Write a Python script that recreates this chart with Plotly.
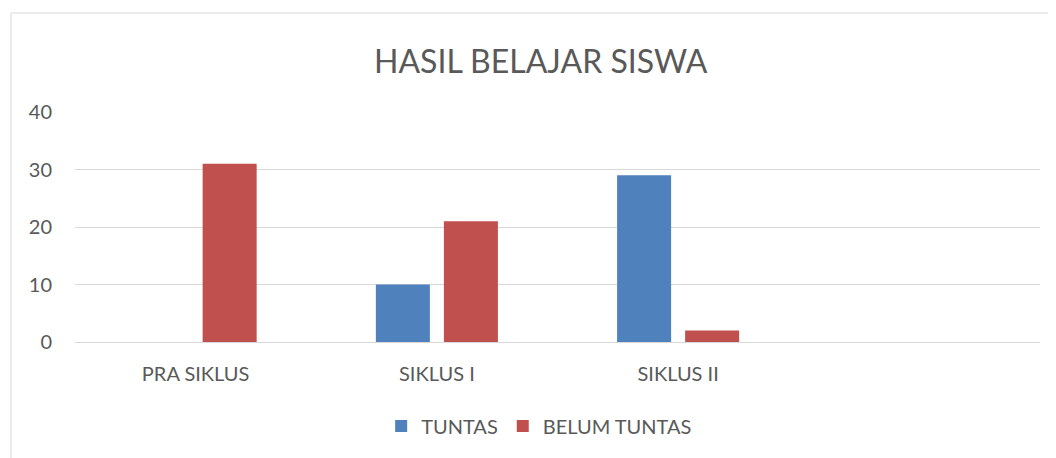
import plotly.graph_objects as go

categories = ["PRA SIKLUS", "SIKLUS I", "SIKLUS II"]
tuntas = [0, 10, 29]
belum_tuntas = [31, 21, 2]
y_ticks = [0, 10, 20, 30, 40]

FONT = "Lato"
TXT = "#595959"

fig = go.Figure()
fig.add_trace(go.Bar(name="TUNTAS", x=categories, y=tuntas, marker_color="#4F81BD",
                     marker_line_width=0))
fig.add_trace(go.Bar(name="BELUM TUNTAS", x=categories, y=belum_tuntas, marker_color="#C0504D",
                     marker_line_width=0))

# page body has an 8px margin; figure is sized/offset to compensate
fig.update_layout(
    width=1040, height=450,
    margin=dict(l=67, r=8, t=104, b=116),
    paper_bgcolor="white", plot_bgcolor="white",
    barmode="group", bargap=0.436, bargroupgap=0.206,
    font=dict(family=FONT, color=TXT, size=20),
    showlegend=True,
    legend=dict(orientation="h", x=0.481, xanchor="center", y=-0.365, yanchor="middle",
                font=dict(size=20, color=TXT, family=FONT), itemwidth=30, traceorder="normal"),
    xaxis=dict(type="category", range=[-0.5, 3.5], showgrid=False, showline=False,
               ticks="", ticklabelstandoff=18, tickfont=dict(size=20, color=TXT, family=FONT),
               zeroline=False),
    yaxis=dict(range=[0, 40], tickvals=y_ticks, showgrid=True, gridcolor="#d9d9d9", gridwidth=1,
               zeroline=True, zerolinecolor="#d9d9d9", zerolinewidth=1, showline=False,
               ticks="", ticklabelstandoff=22, tickfont=dict(size=20, color=TXT, family=FONT)),
    shapes=[dict(type="rect", xref="paper", yref="paper", x0=-0.0663, x1=1.2, y0=-0.8, y1=1.4304,
                 line=dict(color="#d9d9d9", width=1), fillcolor="rgba(0,0,0,0)", layer="below")],
    annotations=[dict(text="HASIL BELAJAR SISWA", xref="paper", yref="paper", x=0.483, y=1.226,
                      xanchor="center", yanchor="middle", showarrow=False,
                      font=dict(size=32, color=TXT, family=FONT))],
)

fig.write_html("out.html")
